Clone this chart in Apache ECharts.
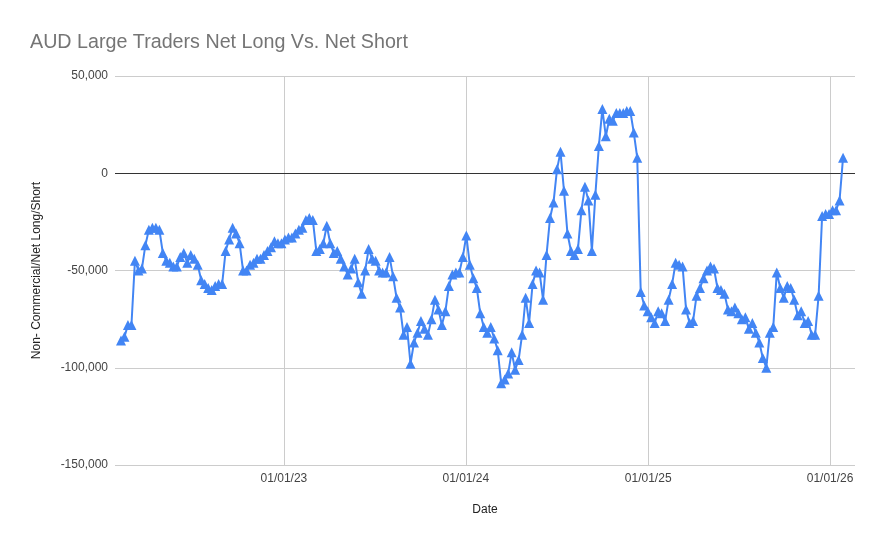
<!DOCTYPE html>
<html>
<head>
<meta charset="utf-8">
<script src="https://cdn.jsdelivr.net/npm/echarts@6/dist/echarts.min.js"></script>
<style>html,body{margin:0;padding:0;background:#fff}#c{width:880px;height:545px}</style>
</head>
<body>
<div id="c"></div>
<script>
// Weekly report dates start (Tuesdays), one value per week
const startDate = '2022-02-08';
// Net long/short values (thousands of contracts), in weekly order
const netA = [-86, -84, -78, -78, -45, -50, -49, -37, -29, -28, -28, -29, -41, -45, -46, -48, -48, -43, -41, -46, -42, -44, -47, -55];
const netB = [-57, -59, -60, -58, -57, -57, -40, -34, -28, -31, -36, -50, -50, -47, -46, -44, -44, -42, -40, -38, -35, -36, -36, -34, -33, -33, -31, -29, -28];
const netC = [-24, -23, -24, -40, -39, -36, -27, -36, -41, -40, -44, -48, -52, -49, -44, -56, -62, -50, -39, -44, -45, -50, -51, -51];
const netD = [-43, -53, -64, -69, -83, -79, -98, -87, -82, -76, -80, -83, -75, -65, -70, -78, -71, -58, -52, -51, -51, -43, -32, -47, -54, -59];
const netE = [-72, -79, -82, -79, -85, -91, -108, -106, -103, -92, -101, -96, -83, -64, -77, -57, -50, -51, -65, -42, -23, -15, 2, 11, -9];
const netF = [-31, -40, -42, -39, -19, -7, -14, -40, -11, 14, 33, 19, 28, 27, 31, 31, 31, 32, 32, 21, 8];
const netG = [-61, -68, -71, -74, -77, -71, -72, -76, -65, -57, -46, -47, -48, -70, -77, -76, -63, -59, -54, -50, -48, -49, -59, -60, -62, -70, -71, -69, -72, -75];
const netH = [-74, -80, -77, -82, -87, -95, -100, -82, -79, -51, -59, -64, -58, -59, -65, -73, -71, -77, -76, -83, -83, -63, -22, -21, -21, -19, -19, -14, 8];
const yTicks = [-150000, -100000, -50000, 0, 50000];
const xTickLabels = ['01/01/23', '01/01/24', '01/01/25', '01/01/26'];

const values = [].concat(netA, netB, netC, netD, netE, netF, netG, netH).map(v => v * 1000);
const DAY = 86400000;
const t0 = Date.parse(startDate + 'T00:00:00Z');
const data = values.map((v, i) => [t0 + i * 7 * DAY, v]);

const font = '"Liberation Sans", Arial, sans-serif';
const chart = echarts.init(document.getElementById('c'), null, {renderer: 'canvas'});
chart.setOption({
  animation: false,
  backgroundColor: '#ffffff',
  title: {
    text: 'AUD Large Traders Net Long Vs. Net Short',
    left: 25, top: 28,
    textStyle: {fontFamily: font, fontSize: 19.7, fontWeight: 'normal', color: '#757575'}
  },
  grid: {left: 115, right: 25, top: 76, bottom: 80, containLabel: false},
  xAxis: {
    type: 'time',
    min: Date.parse('2022-01-27T00:00:00Z'),
    max: Date.parse('2026-02-20T00:00:00Z'),
    minInterval: 365 * DAY,
    maxInterval: 366 * DAY,
    name: 'Date', nameLocation: 'middle', nameGap: 39,
    nameTextStyle: {fontFamily: font, fontSize: 12, color: '#222'},
    axisLine: {show: false},
    axisTick: {show: false},
    splitLine: {show: true, showMinLine: false, showMaxLine: false, lineStyle: {color: '#cccccc', width: 1}},
    axisLabel: {
      showMinLabel: false, showMaxLabel: false,
      fontFamily: font, fontSize: 12, color: '#444', margin: 8,
      formatter: function (val) {
        const d = new Date(val);
        const yy = String(d.getUTCFullYear() % 100).padStart(2, '0');
        const lbl = '01/01/' + yy;
        return xTickLabels.indexOf(lbl) >= 0 ? lbl : '';
      }
    }
  },
  yAxis: {
    type: 'value',
    min: yTicks[0], max: yTicks[yTicks.length - 1], interval: 50000,
    name: 'Non- Commercial/Net Long/Short', nameLocation: 'middle', nameGap: 72,
    nameTextStyle: {fontFamily: font, fontSize: 12, color: '#222'},
    axisLine: {show: false}, axisTick: {show: false},
    splitLine: {lineStyle: {color: '#cccccc', width: 1}},
    axisLabel: {
      fontFamily: font, fontSize: 12, color: '#444', margin: 7,
      formatter: v => v.toLocaleString('en-US')
    }
  },
  series: [{
    type: 'line',
    data: data,
    symbol: 'triangle',
    symbolSize: 10,
    showAllSymbol: true,
    lineStyle: {color: '#4285F4', width: 2},
    itemStyle: {color: '#4285F4'},
    markLine: {
      silent: true, symbol: 'none', label: {show: false},
      lineStyle: {color: '#333333', width: 1, type: 'solid'},
      data: [{yAxis: 0}],
      z: 1
    },
    z: 3
  }]
});
</script>
</body>
</html>
